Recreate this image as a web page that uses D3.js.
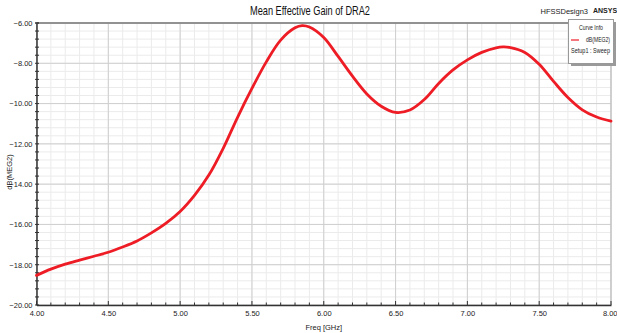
<!DOCTYPE html>
<html>
<head>
<meta charset="utf-8">
<script src="https://cdn.jsdelivr.net/npm/d3@7"></script>
<style>
  html, body { margin: 0; padding: 0; background: #fff; }
  svg { display: block; }
  text { font-family: "Liberation Sans Narrow", "Arial Narrow", "Liberation Sans", Arial, sans-serif; }
</style>
</head>
<body>
<svg id="chart" width="617" height="333"></svg>
<script>
// ---- data ----
const freq = [4.0, 4.1, 4.2, 4.3, 4.4, 4.5, 4.6, 4.7, 4.8, 4.9, 5.0, 5.1, 5.2, 5.3, 5.4, 5.5, 5.6, 5.7, 5.8, 5.85, 5.9, 6.0, 6.1, 6.2, 6.3, 6.4, 6.5, 6.6, 6.7, 6.8, 6.9, 7.0, 7.1, 7.2, 7.25, 7.3, 7.4, 7.5, 7.6, 7.7, 7.8, 7.9, 8.0];
const megDb = [-18.53, -18.22, -17.97, -17.77, -17.58, -17.38, -17.12, -16.82, -16.42, -15.95, -15.36, -14.56, -13.55, -12.22, -10.68, -9.25, -7.93, -6.85, -6.24, -6.13, -6.20, -6.72, -7.66, -8.64, -9.52, -10.13, -10.44, -10.32, -9.80, -9.00, -8.33, -7.83, -7.46, -7.23, -7.19, -7.22, -7.46, -8.05, -8.90, -9.70, -10.31, -10.67, -10.87];
const xTicks = [4.0, 4.5, 5.0, 5.5, 6.0, 6.5, 7.0, 7.5, 8.0];
const yTicks = [-6, -8, -10, -12, -14, -16, -18, -20];
const titleText = "Mean Effective Gain of DRA2";
const xLabel = "Freq [GHz]";
const yLabel = "dB(MEG2)";
const seriesName = "dB(MEG2)";
const setupName = "Setup1 : Sweep";

// ---- layout ----
const svg = d3.select("#chart");
const L = 36.5, R = 611, T = 23, B = 305;
const x = d3.scaleLinear().domain([4, 8]).range([L, R]);
const y = d3.scaleLinear().domain([-20, -6]).range([B, T]);

// minor grid
const xMinor = d3.range(41).map(i => 4 + i * 0.1);
const yMinor = d3.range(36).map(i => -20 + i * 0.4);
const g = svg.append("g");
g.selectAll(".vmin").data(xMinor).join("line")
  .attr("x1", d => x(d)).attr("x2", d => x(d)).attr("y1", T).attr("y2", B)
  .attr("stroke", "#ebebeb").attr("stroke-width", 1);
g.selectAll(".hmin").data(yMinor).join("line")
  .attr("x1", L).attr("x2", R).attr("y1", d => y(d)).attr("y2", d => y(d))
  .attr("stroke", "#ebebeb").attr("stroke-width", 1);
// major grid
g.selectAll(".vmaj").data(xTicks).join("line")
  .attr("x1", d => x(d)).attr("x2", d => x(d)).attr("y1", T).attr("y2", B)
  .attr("stroke", "#cfcfcf").attr("stroke-width", 1);
g.selectAll(".hmaj").data(yTicks).join("line")
  .attr("x1", L).attr("x2", R).attr("y1", d => y(d)).attr("y2", d => y(d))
  .attr("stroke", "#cfcfcf").attr("stroke-width", 1);

// frame
svg.append("line").attr("x1", L).attr("x2", R).attr("y1", T).attr("y2", T).attr("stroke", "#777").attr("stroke-width", 1.5);
svg.append("line").attr("x1", R).attr("x2", R).attr("y1", T).attr("y2", B).attr("stroke", "#bbb").attr("stroke-width", 1);

// axes
const xAxis = d3.axisBottom(x).tickValues(xTicks).tickFormat(d3.format(".2f")).tickSize(0).tickPadding(6);
const yAxis = d3.axisLeft(y).tickValues(yTicks).tickFormat(d3.format(".2f")).tickSize(0).tickPadding(4);
const gx = svg.append("g").attr("transform", `translate(0,${B})`).call(xAxis);
const gy = svg.append("g").attr("transform", `translate(${L},0)`).call(yAxis);
[gx, gy].forEach(a => {
  a.select(".domain").attr("stroke", "#333").attr("stroke-width", 1.5);
  a.selectAll("text").attr("font-size", 7.5).attr("fill", "#222");
});
gy.selectAll(".tick text").attr("dy", "0.32em");
gx.selectAll(".tick text").filter(d => d === 8).attr("text-anchor", "end").attr("dx", "6");
// tick marks (minor inside, major crossing)
svg.selectAll(".xtm").data(xMinor).join("line")
  .attr("x1", d => x(d)).attr("x2", d => x(d))
  .attr("y1", B).attr("y2", (d, i) => B - (i % 5 === 0 ? 4 : 2.5))
  .attr("stroke", "#333").attr("stroke-width", 1);
svg.selectAll(".ytm").data(yMinor.concat([-6])).join("line")
  .attr("y1", d => y(d)).attr("y2", d => y(d))
  .attr("x1", L - 1.5).attr("x2", L + 2.5)
  .attr("stroke", "#333").attr("stroke-width", 1);

// curve
const line = d3.line().x((d, i) => x(freq[i])).y(d => y(d)).curve(d3.curveCatmullRom.alpha(0.5));
svg.append("path").datum(megDb).attr("d", line)
  .attr("fill", "none").attr("stroke", "#ee1c25").attr("stroke-width", 2.8)
  .attr("stroke-linejoin", "round").attr("stroke-linecap", "round");

// title & labels
svg.append("text").attr("x", 310).attr("y", 15).attr("text-anchor", "middle")
  .attr("font-size", 13).attr("fill", "#111")
  .attr("textLength", 120).attr("lengthAdjust", "spacingAndGlyphs").text(titleText);
svg.append("text").attr("x", 588).attr("y", 14).attr("text-anchor", "end").attr("font-size", 7.5).attr("fill", "#222")
  .text("HFSSDesign3");
svg.append("text").attr("x", 593).attr("y", 13).attr("font-size", 7).attr("font-weight", "bold").attr("fill", "#222")
  .text("ANSYS");
svg.append("text").attr("x", (L + R) / 2).attr("y", 330).attr("text-anchor", "middle")
  .attr("font-size", 7.5).attr("fill", "#222").text(xLabel);
svg.append("text").attr("transform", "translate(12,172) rotate(-90)").attr("text-anchor", "middle")
  .attr("font-size", 7.5).attr("fill", "#222").text(yLabel);

// legend
const lg = svg.append("g");
lg.append("rect").attr("x", 571).attr("y", 22).attr("width", 45).attr("height", 44).attr("fill", "#9a9a9a");
lg.append("rect").attr("x", 568.5).attr("y", 19.5).attr("width", 45).attr("height", 44)
  .attr("fill", "#fff").attr("stroke", "#999").attr("stroke-width", 1);
lg.append("text").attr("x", 591).attr("y", 30).attr("text-anchor", "middle").attr("font-size", 6.5).attr("fill", "#222")
  .attr("textLength", 24).attr("lengthAdjust", "spacingAndGlyphs").text("Curve Info");
lg.append("line").attr("x1", 571).attr("x2", 579).attr("y1", 40).attr("y2", 40).attr("stroke", "#ee1c25").attr("stroke-width", 1.2);
lg.append("text").attr("x", 610).attr("y", 42).attr("text-anchor", "end").attr("font-size", 6.5).attr("fill", "#222")
  .attr("textLength", 24).attr("lengthAdjust", "spacingAndGlyphs").text(seriesName);
lg.append("text").attr("x", 571).attr("y", 53).attr("font-size", 6.5).attr("fill", "#222")
  .attr("textLength", 39).attr("lengthAdjust", "spacingAndGlyphs").text(setupName);
</script>
</body>
</html>
